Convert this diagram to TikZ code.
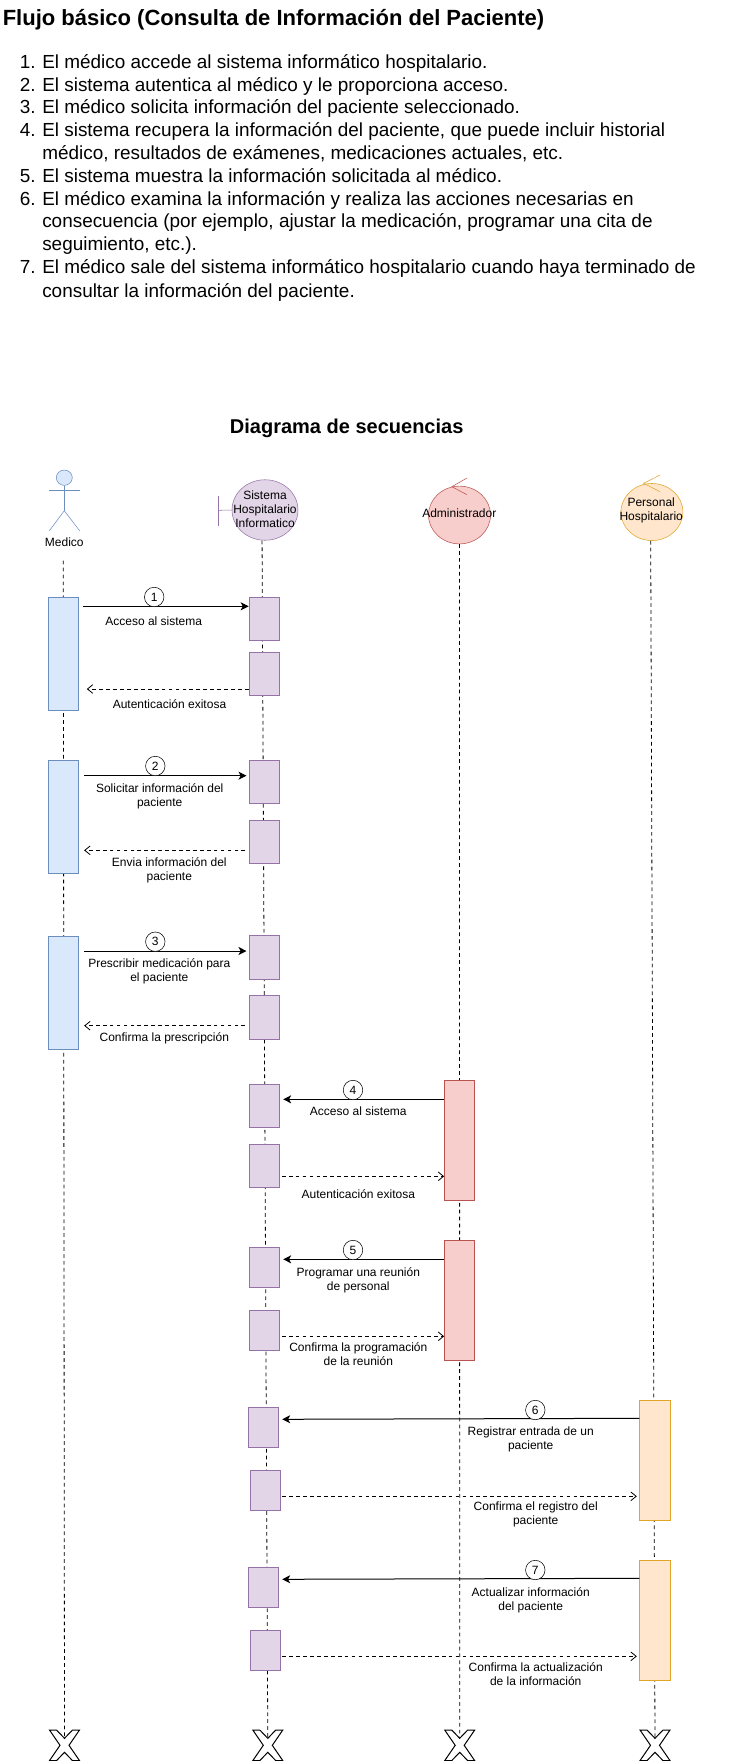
\documentclass[tikz,border=0pt]{standalone}
\usepackage{fontspec}
\setmainfont{Liberation Sans}
\usetikzlibrary{arrows.meta,shapes.geometric}
\definecolor{bluefill}{HTML}{DAE8FC}
\definecolor{bluedraw}{HTML}{6C8EBF}
\definecolor{purplefill}{HTML}{E1D5E7}
\definecolor{purpledraw}{HTML}{9673A6}
\definecolor{redfill}{HTML}{F8CECC}
\definecolor{reddraw}{HTML}{B85450}
\definecolor{orangefill}{HTML}{FFE6CC}
\definecolor{orangedraw}{HTML}{E0A526}
\tikzset{
  heading/.style={font=\bfseries\fontsize{15}{18}\selectfont, inner sep=0},
  itemtext/.style={font=\fontsize{14.2}{17}\selectfont, anchor=base west, inner sep=0},
  itemnum/.style={font=\fontsize{14.2}{17}\selectfont, anchor=base east, inner sep=0},
  lbl/.style={font=\fontsize{9}{10.5}\selectfont, align=center, inner sep=0},
  number/.style={circle, draw, fill=white, minimum size=14.6pt, inner sep=0, font=\fontsize{9}{10.5}\selectfont},
  head/.style={ellipse, draw, inner sep=0},
  actbox/.style={rectangle, draw, inner sep=0, minimum width=22.6pt},
  medbox/.style={actbox, draw=bluedraw, fill=bluefill, minimum height=84.75pt},
  sisbox/.style={actbox, draw=purpledraw, fill=purplefill},
  admbox/.style={actbox, draw=reddraw, fill=redfill, minimum height=90pt},
  perbox/.style={actbox, draw=orangedraw, fill=orangefill, minimum height=90pt},
  lifeline/.style={draw=black, dash pattern=on 2.8pt off 2.4pt, line width=.6pt},
  call/.style={-{Stealth[length=6pt,width=6pt,inset=1.6pt]}, line width=.75pt},
  reply/.style={-{Straight Barb[length=4pt,width=6.5pt]}, dash pattern=on 2.8pt off 2.4pt, line width=.6pt},
}
\begin{document}
\begin{tikzpicture}[x=.75pt, y=-.75pt]
\useasboundingbox (0,0) rectangle (730,1761);
% texto
\node[heading, anchor=west, font=\bfseries\fontsize{16.5}{20}\selectfont] (titulo) at (2.5,20) {Flujo básico (Consulta de Información del Paciente)};
\node[itemnum] (n1) at (36,68) {1.};
\node[itemtext] (l1) at (42,68) {El médico accede al sistema informático hospitalario.};
\node[itemnum] (n2) at (36,91) {2.};
\node[itemtext] (l2) at (42,91) {El sistema autentica al médico y le proporciona acceso.};
\node[itemnum] (n3) at (36,113.5) {3.};
\node[itemtext] (l3) at (42,113.5) {El médico solicita información del paciente seleccionado.};
\node[itemnum] (n4) at (36,136) {4.};
\node[itemtext] (l4) at (42,136) {El sistema recupera la información del paciente, que puede incluir historial};
\node[itemtext] (l4b) at (42,159) {médico, resultados de exámenes, medicaciones actuales, etc.};
\node[itemnum] (n5) at (36,182) {5.};
\node[itemtext] (l5) at (42,182) {El sistema muestra la información solicitada al médico.};
\node[itemnum] (n6) at (36,205) {6.};
\node[itemtext] (l6) at (42,205) {El médico examina la información y realiza las acciones necesarias en};
\node[itemtext] (l6b) at (42,227.5) {consecuencia (por ejemplo, ajustar la medicación, programar una cita de};
\node[itemtext] (l6c) at (42,250.5) {seguimiento, etc.).};
\node[itemnum] (n7) at (36,273) {7.};
\node[itemtext] (l7) at (42,273) {El médico sale del sistema informático hospitalario cuando haya terminado de};
\node[itemtext] (l7b) at (42,297) {consultar la información del paciente.};
\node[heading] (diagrama) at (346.7,428.5) {Diagrama de secuencias};
% actores
\node[head, draw=bluedraw, fill=bluefill, minimum width=12pt, minimum height=11.5pt] (medHead) at (64.3,477.7) {};
\draw[bluedraw] (medHead.south) -- (64.3,510.7) coordinate (medHip);
\draw[bluedraw] (49.4,490) -- (79.6,490);
\draw[bluedraw] (49.4,530.7) -- (medHip) -- (79.6,530.7);
\node[lbl] (medLabel) at (64.3,542.7) {Medico};
\node[head, draw=purpledraw, fill=purplefill, minimum width=49.5pt, minimum height=45.4pt] (sisHead) at (265,510) {};
\draw[purpledraw] (sisHead.west) -- (218.4,510.3);
\draw[purpledraw] (218.4,495.7) -- (218.4,525.7);
\node[lbl] (sisLabel) at (265,509) {Sistema\\Hospitalario\\Informatico};
\node[head, draw=reddraw, fill=redfill, minimum width=46.5pt, minimum height=43.3pt] (admHead) at (459.5,515) {};
\draw[reddraw] (467,478) -- (451.8,486.7) -- (467,494.7);
\node[lbl] (admLabel) at (459.3,513.7) {Administrador};
\node[head, draw=orangedraw, fill=orangefill, minimum width=46.5pt, minimum height=42.8pt] (perHead) at (651.9,512) {};
\draw[orangedraw] (660,475) -- (643.7,483.3) -- (660,491.7);
\node[lbl] (perLabel) at (651.2,510.7) {Personal\\Hospitalario};
% cruces finales y lineas de vida
\foreach \xname/\xpos in {xMed/64.5, xSis/267.8, xAdm/459.7, xPer/655}{
  \coordinate (\xname) at (\xpos,1738.3);
  \draw[fill=white, line width=.75pt] (\xpos-15,1730) -- (\xpos-8,1730) -- (\xpos,1738.3) -- (\xpos+8,1730) -- (\xpos+15,1730) -- (\xpos+4.5,1745.3) -- (\xpos+15,1760.6) -- (\xpos+8,1760.6) -- (\xpos,1752.3) -- (\xpos-8,1760.6) -- (\xpos-15,1760.6) -- (\xpos-4.5,1745.3) -- cycle;
}
\coordinate (medTop) at (63.3,560.7);
\draw[lifeline] (medTop) -- (xMed);
\draw[lifeline] ([xshift=-2.2pt]sisHead.south) -- (xSis);
\draw[lifeline] (admHead.south) -- (xAdm);
\draw[lifeline] ([xshift=-.9pt]perHead.south) -- (xPer);
% activaciones
\node[medbox] (m1) at (63.5,653.8) {};
\node[medbox] (m2) at (63.5,816.8) {};
\node[medbox] (m3) at (63.5,992.3) {};
\node[sisbox, minimum height=32.5pt] (s1) at (264,619) {};
\node[sisbox, minimum height=32.5pt] (s2) at (264,674) {};
\node[sisbox, minimum height=32.5pt] (s3) at (264.5,781.8) {};
\node[sisbox, minimum height=32.5pt] (s4) at (264.5,842) {};
\node[sisbox, minimum height=32.5pt] (s5) at (264.5,957.3) {};
\node[sisbox, minimum height=32.5pt] (s6) at (264.5,1017.3) {};
\node[sisbox, minimum height=32.5pt] (s7) at (264.5,1105.7) {};
\node[sisbox, minimum height=32.5pt] (s8) at (264.5,1165.7) {};
\node[sisbox, minimum height=30pt] (s9) at (264.5,1267.2) {};
\node[sisbox, minimum height=30pt] (s10) at (264.5,1330.3) {};
\node[sisbox, minimum height=30pt] (s11) at (263.5,1427.2) {};
\node[sisbox, minimum height=30pt] (s12) at (265,1490.3) {};
\node[sisbox, minimum height=30pt] (s13) at (263.5,1587.2) {};
\node[sisbox, minimum height=30pt] (s14) at (265,1650.3) {};
\node[admbox] (a1) at (459.5,1140.3) {};
\node[admbox] (a2) at (459.5,1300.3) {};
\node[perbox] (o1) at (654.8,1460.3) {};
\node[perbox] (o2) at (654.8,1620.3) {};
% mensajes
\draw[call, shorten <=3.2pt] (m1.east |- 0,606.3) -- (s1.west |- 0,606.3);
\draw[reply, shorten >=6pt] (s2.west |- 0,689) -- (m1.east |- 0,689);
\draw[call, shorten <=4pt, shorten >=2pt] (m2.east |- 0,775.7) -- (s3.west |- 0,775.7);
\draw[reply, shorten <=3pt, shorten >=4pt] (s4.west |- 0,850.3) -- (m2.east |- 0,850.3);
\draw[call, shorten <=4pt, shorten >=2pt] (m3.east |- 0,951) -- (s5.west |- 0,951);
\draw[reply, shorten <=3pt, shorten >=4pt] (s6.west |- 0,1025.7) -- (m3.east |- 0,1025.7);
\draw[call, shorten >=2.5pt] (a1.west |- 0,1099.3) -- (s7.east |- 0,1099.3);
\draw[reply, shorten <=1.5pt] (s8.east |- 0,1176.3) -- (a1.west |- 0,1176.3);
\draw[call, shorten >=2.5pt] (a2.west |- 0,1259.3) -- (s9.east |- 0,1259.3);
\draw[reply, shorten <=1.5pt] (s10.east |- 0,1336.3) -- (a2.west |- 0,1336.3);
\draw[call, shorten >=2.5pt] (o1.west |- 0,1418.3) -- (s11.east |- 0,1419.3);
\draw[reply, shorten <=1.5pt, shorten >=2pt] (s12.east |- 0,1496.3) -- (o1.west |- 0,1496.3);
\draw[call, shorten >=2.5pt] (o2.west |- 0,1578.3) -- (s13.east |- 0,1579.3);
\draw[reply, shorten <=1.5pt, shorten >=2pt] (s14.east |- 0,1656.3) -- (o2.west |- 0,1656.3);
% numeros
\node[number] (c1) at (154.2,597) {1};
\node[number] (c2) at (155.3,766) {2};
\node[number] (c3) at (155.3,941.7) {3};
\node[number] (c4) at (353,1090) {4};
\node[number] (c5) at (353,1250) {5};
\node[number] (c6) at (535.3,1410) {6};
\node[number] (c7) at (535.3,1570) {7};
% etiquetas
\node[lbl] (t1) at (153.7,620.7) {Acceso al sistema};
\node[lbl] (t2) at (169.5,703.7) {Autenticación exitosa};
\node[lbl] (t3) at (159.7,796.5) {Solicitar información del\\paciente};
\node[lbl] (t4) at (169.3,870) {Envia información del\\paciente};
\node[lbl] (t5) at (159.3,971.7) {Prescribir medicación para\\el paciente};
\node[lbl] (t6) at (164.3,1038.5) {Confirma la prescripción};
\node[lbl] (t7) at (358.3,1110.7) {Acceso al sistema};
\node[lbl] (t8) at (358.3,1193.7) {Autenticación exitosa};
\node[lbl] (t9) at (358.3,1280) {Programar una reunión\\de personal};
\node[lbl] (t10) at (358.3,1353.7) {Confirma la programación\\de la reunión};
\node[lbl] (t11) at (530.7,1439.8) {Registrar entrada de un\\paciente};
\node[lbl] (t12) at (535.7,1514.7) {Confirma el registro del\\paciente};
\node[lbl] (t13) at (530.7,1600.5) {Actualizar información\\del paciente};
\node[lbl] (t14) at (535.7,1673.7) {Confirma la actualización\\de la información};
\end{tikzpicture}
\end{document}
